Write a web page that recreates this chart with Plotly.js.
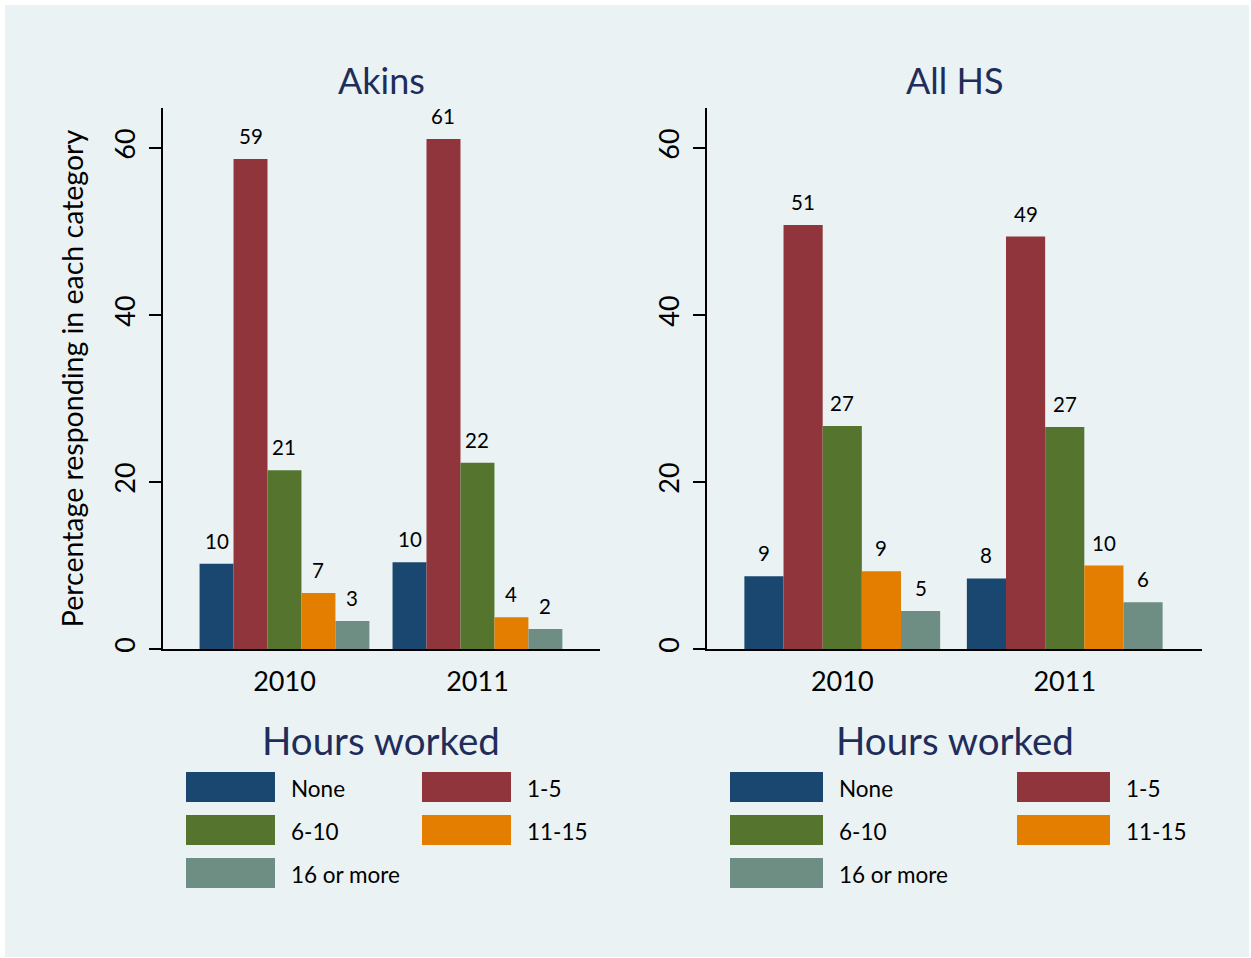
<!DOCTYPE html>
<html>
<head>
<meta charset="utf-8">
<script src="https://cdn.plot.ly/plotly-3.0.1.min.js"></script>
<style>html,body{margin:0;padding:0;background:#fff;}</style>
</head>
<body>
<div id="chart" style="width:1251px;height:958px;"></div>
<script>
// ---- data ----
const years = ['2010', '2011'];
const categories = ['None', '1-5', '6-10', '11-15', '16 or more'];
const colors = ['#1A476F', '#90353B', '#55752F', '#E37E00', '#6E8E84'];
const panelTitles = ['Akins', 'All HS'];
const legendTitle = 'Hours worked';
const yTitle = 'Percentage responding in each category';
const yTicks = [0, 20, 40, 60];

const akinsNone = [10.2, 10.4];
const akins1to5 = [58.7, 61.1];
const akins6to10 = [21.4, 22.3];
const akins11to15 = [6.7, 3.8];
const akins16plus = [3.35, 2.4];

const allhsNone = [8.7, 8.45];
const allhs1to5 = [50.8, 49.4];
const allhs6to10 = [26.7, 26.6];
const allhs11to15 = [9.3, 10.0];
const allhs16plus = [4.56, 5.6];

const panelSeries = [
  [akinsNone, akins1to5, akins6to10, akins11to15, akins16plus],
  [allhsNone, allhs1to5, allhs6to10, allhs11to15, allhs16plus]
];

// ---- layout helpers ----
const W = 1251, H = 958;
const px = v => v / W;
const py = v => 1 - v / H;
const FONT = 'Lato, "Open Sans", sans-serif';
const NAVY = '#1F2D5A';
const BG = '#EAF2F3';
const bargap = 0.12;

const traces = [];
const annotations = [];
const shapes = [{
  type: 'rect', xref: 'paper', yref: 'paper', layer: 'below',
  x0: px(5), x1: px(1249), y0: py(957), y1: py(5),
  fillcolor: BG, line: {width: 0}
}];

panelSeries.forEach((series, p) => {
  const xa = p === 0 ? 'x' : 'x2';
  const ya = p === 0 ? 'y' : 'y2';
  series.forEach((vals, i) => {
    traces.push({
      type: 'bar', x: years, y: vals, name: categories[i],
      xaxis: xa, yaxis: ya, showlegend: false,
      marker: {color: colors[i], line: {width: 0}},
      hoverinfo: 'x+y+name'
    });
    const w = (1 - bargap) / series.length;
    vals.forEach((v, k) => {
      annotations.push({
        xref: xa, yref: ya,
        x: k - (1 - bargap) / 2 + w * (i + 0.5), y: v,
        text: String(Math.round(v)), showarrow: false,
        xanchor: 'center', yanchor: 'bottom', yshift: 9,
        font: {family: FONT, size: 20.5, color: '#000'}
      });
    });
  });
});

// panel titles & legends
const panels = [
  {cx: 381.5, col1: 186, col2: 422, sw: 89},
  {cx: 954.5, col1: 730, col2: 1017, sw: 93}
];
const rowTops = [772, 815, 858];
const swH = 30;
panels.forEach((pn, p) => {
  annotations.push({
    xref: 'paper', yref: 'paper', x: px(pn.cx), y: py(80),
    text: panelTitles[p], showarrow: false, xanchor: 'center', yanchor: 'middle',
    font: {family: FONT, size: 36, color: NAVY}
  });
  annotations.push({
    xref: 'paper', yref: 'paper', x: px(pn.cx), y: py(740),
    text: legendTitle, showarrow: false, xanchor: 'center', yanchor: 'middle',
    font: {family: FONT, size: 38.5, color: NAVY}
  });
  categories.forEach((c, i) => {
    const row = Math.floor(i / 2), col = i % 2;
    const x0 = col === 0 ? pn.col1 : pn.col2;
    const top = rowTops[row];
    shapes.push({
      type: 'rect', xref: 'paper', yref: 'paper',
      x0: px(x0), x1: px(x0 + pn.sw), y0: py(top + swH), y1: py(top),
      fillcolor: colors[i], line: {width: 0}
    });
    annotations.push({
      xref: 'paper', yref: 'paper', x: px(x0 + pn.sw + 14), y: py(top + swH / 2 + 1),
      text: c, showarrow: false, xanchor: 'left', yanchor: 'middle',
      font: {family: FONT, size: 22.5, color: '#000'}
    });
  });
});

const yaxisBase = {
  range: [0, 64.8], tickvals: yTicks, ticktext: yTicks.map(String),
  tickangle: -90, ticks: 'outside', ticklen: 12, tickwidth: 1.5, tickcolor: '#000',
  showline: true, linecolor: '#000', linewidth: 1.5,
  showgrid: true, gridcolor: BG, gridwidth: 2, zeroline: false,
  tickfont: {family: FONT, size: 27, color: '#000'},
  ticklabelstandoff: 3, fixedrange: true
};
const xaxisBase = {
  type: 'category', showline: true, linecolor: '#000', linewidth: 1.5,
  ticks: '', showgrid: false, zeroline: false,
  tickfont: {family: FONT, size: 27, color: '#000'},
  ticklabelstandoff: 8, fixedrange: true
};

const layout = {
  width: W, height: H,
  margin: {l: 0, r: 0, t: 0, b: 0},
  paper_bgcolor: '#FFFFFF', plot_bgcolor: '#FFFFFF',
  font: {family: FONT, color: '#000'},
  barmode: 'group', bargap: bargap, bargroupgap: 0,
  xaxis: Object.assign({}, xaxisBase, {domain: [px(163), px(600)], range: [-0.6295, 1.635], anchor: 'y'}),
  yaxis: Object.assign({}, yaxisBase, {domain: [py(649), py(108)], anchor: 'x',
    title: {text: yTitle, font: {family: FONT, size: 28.5, color: '#000'}, standoff: 16}}),
  xaxis2: Object.assign({}, xaxisBase, {domain: [px(707), px(1202)], range: [-0.608, 1.617], anchor: 'y2'}),
  yaxis2: Object.assign({}, yaxisBase, {domain: [py(649), py(108)], anchor: 'x2'}),
  annotations: annotations,
  shapes: shapes
};

Plotly.newPlot('chart', traces, layout, {displayModeBar: false, staticPlot: false});
</script>
</body>
</html>
